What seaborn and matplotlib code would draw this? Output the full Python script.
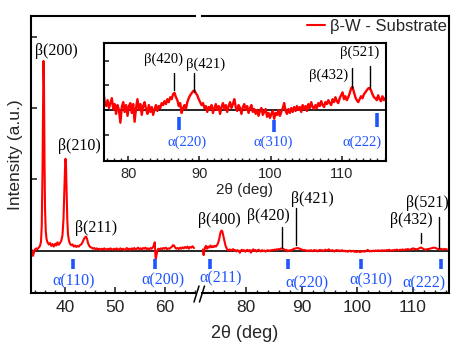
import numpy as np
import pandas as pd
import matplotlib
matplotlib.use("Agg")
import matplotlib.pyplot as plt
import seaborn as sns
from matplotlib.ticker import MultipleLocator, NullFormatter
from matplotlib.lines import Line2D

# ---------------- data (intensity in a.u. x1000, baseline = 0) ----------------
tt_left = [33.4, 33.6, 33.8, 34.0, 34.25, 34.5, 34.75, 35.0, 35.2, 35.35, 35.5, 35.6, 35.7, 35.8,
           35.9, 36.0, 36.15, 36.3, 36.5, 36.75, 37.0, 37.25, 37.5, 37.75, 38.0, 38.25, 38.5, 38.75,
           39.0, 39.25, 39.5, 39.7, 39.85, 40.0, 40.1, 40.2, 40.3, 40.45, 40.6, 40.8, 41.0, 41.25,
           41.5, 41.75, 42.0, 42.25, 42.5, 42.75, 43.0, 43.25, 43.5, 43.75, 44.0, 44.2, 44.4, 44.6,
           44.85, 45.1, 45.35, 45.6, 45.85, 46.1, 46.35, 46.6, 46.85, 47.1, 47.35, 47.6, 47.85, 48.1,
           48.35, 48.6, 48.85, 49.1, 49.35, 49.6, 49.85, 50.1, 50.35, 50.6, 50.85, 51.1, 51.35, 51.6,
           51.85, 52.1, 52.35, 52.6, 52.85, 53.1, 53.35, 53.6, 53.85, 54.1, 54.35, 54.6, 54.85, 55.1,
           55.35, 55.6, 55.85, 56.1, 56.35, 56.6, 56.85, 57.1, 57.35, 57.6, 57.8, 57.95, 58.05, 58.15,
           58.3, 58.45, 58.65, 58.9, 59.15, 59.4, 59.65, 59.9, 60.15, 60.4, 60.65, 60.9, 61.15, 61.4,
           61.6, 61.8, 62.0, 62.25, 62.5, 62.75, 63.0, 63.25, 63.5, 63.75, 64.0, 64.25, 64.5, 64.75,
           65.0, 65.25, 65.5, 65.8]
int_left = [10, -70, -20, 20, 35, 25, 45, 70, 130, 350, 1100, 1900, 2660, 2300,
            1300, 600, 280, 170, 120, 90, 110, 70, 95, 60, 100, 75, 120, 85,
            110, 140, 220, 450, 800, 1150, 1290, 1200, 900, 450, 230, 140, 100, 80,
            90, 60, 75, 55, 70, 60, 80, 90, 120, 160, 190, 200, 170, 110,
            70, 50, 45, 30, 40, 25, 35, 20, 30, 15, 30, 20, 35, 25,
            15, 30, 20, 35, 25, 15, 30, 20, 35, 15, 25, 35, 20, 30,
            10, 25, 40, 20, 30, 15, 35, 25, 40, 20, 30, 45, 25, 35,
            20, 40, 30, 45, 25, 35, 20, 40, 30, 55, 80, 120, -20, -110,
            -60, -10, 30, 20, 35, 25, 40, 30, 45, 25, 35, 30, 45, 60,
            80, 75, 50, 30, 40, 25, 45, 30, 50, 35, 55, 40, 60, 30,
            55, 45, 65, 40]

tt_right = [72.2, 72.4, 72.6, 72.8, 73.0, 73.2, 73.4, 73.6, 73.8, 74.0, 74.2, 74.4, 74.6, 74.8,
            75.0, 75.2, 75.4, 75.6, 75.75, 75.9, 76.1, 76.3, 76.5, 76.7,
            76.9, 77.1, 77.3, 77.5, 77.7, 77.9, 78.1, 78.3, 78.5, 78.7, 78.9, 79.1, 79.3, 79.5,
            79.7, 79.9, 80.1, 80.3, 80.5, 80.7, 80.9, 81.1, 81.3, 81.5, 81.7, 81.9, 82.1, 82.3,
            82.5, 82.7, 82.9, 83.1, 83.3, 83.5, 83.7, 83.9, 84.1, 84.3, 84.5, 84.7, 84.9, 85.1,
            85.3, 85.5, 85.7, 85.9, 86.1, 86.3, 86.5, 86.7, 86.9, 87.1, 87.3, 87.5, 87.7, 87.9,
            88.1, 88.3, 88.5, 88.7, 88.9, 89.1, 89.3, 89.5, 89.7, 89.9, 90.1, 90.3, 90.5, 90.7,
            90.9, 91.1, 91.3, 91.5, 91.7, 91.9, 92.1, 92.3, 92.5, 92.7, 92.9, 93.1, 93.3, 93.5,
            93.7, 93.9, 94.1, 94.3, 94.5, 94.7, 94.9, 95.1, 95.3, 95.5, 95.7, 95.9, 96.1, 96.3,
            96.5, 96.7, 96.9, 97.1, 97.3, 97.5, 97.7, 97.9, 98.1, 98.3, 98.5, 98.7, 98.9, 99.1,
            99.3, 99.5, 99.7, 99.9, 100.1, 100.3, 100.5, 100.7, 100.9, 101.1, 101.3, 101.5, 101.7,
            101.9, 102.1, 102.3, 102.5, 102.7, 102.9, 103.1, 103.3, 103.5, 103.7, 103.9, 104.1,
            104.3, 104.5, 104.7, 104.9, 105.1, 105.3, 105.5, 105.7, 105.9, 106.1, 106.3, 106.5,
            106.7, 106.9, 107.1, 107.3, 107.5, 107.7, 107.9, 108.1, 108.3, 108.5, 108.7, 108.9,
            109.1, 109.3, 109.5, 109.7, 109.9, 110.1, 110.3, 110.5, 110.7, 110.9, 111.1, 111.3,
            111.5, 111.7, 111.9, 112.1, 112.3, 112.5, 112.7, 112.9, 113.1, 113.3, 113.5, 113.7,
            113.9, 114.1, 114.3, 114.5, 114.7, 114.9, 115.1, 115.3, 115.5, 115.7, 115.9, 116.1]
int_right = [20, -60, 40, 70, 30, 60, 45, 75, 50, 65, 55, 70, 60, 80,
             110, 170, 250, 285, 275, 220, 140, 80, 40, 16,
             8, 20, 4, 14, 24, 2, 12, -8, 10, 0, -26, 6, 16, -4,
             10, -12, 8, 14, -6, 12, -24, 4, 22, 0, 12, -10, 8, 16,
             2, -8, 10, -4, 6, -10, 2, 10, -2, 8, 4, 14, 10, 18,
             12, 22, 16, 26, 22, 32, 35, 26, 20, 8, 14, -6, 4, 10,
             2, 16, 24, 30, 34, 38, 40, 34, 30, 22, 16, 10, 14, 4,
             8, -4, 6, 2, 10, -6, 4, 12, 0, 8, -8, 6, 14, 2,
             10, -4, 8, 16, 4, 12, 22, 6, -2, 10, 4, -8, 6, 12,
             0, 8, -6, 4, 10, -4, 2, -8, 0, -12, -2, 4, -10, -4,
             2, -14, -6, -16, -8, -2, -18, -6, -10, 0, -12, -4, 4,
             14, -2, -8, 2, -6, 4, -4, 6, -2, 8, 0, 6,
             -4, 10, 2, 8, -2, 12, 4, 16, 6, 2, 10, 4,
             14, 8, 18, 10, 6, 16, 12, 20, 14, 10, 22, 16,
             26, 18, 14, 24, 30, 36, 22, 28, 20, 26, 34, 44,
             47, 36, 26, 20, 16, 22, 28, 24, 32, 36, 40, 44,
             45, 40, 32, 26, 24, 20, 30, 22, 18, 28, 20, 24]

# reflection markers
beta_main_left = ["β(200)", "β(210)", "β(211)"]
beta_main_left_pos = [(38.35, 2800), (42.8, 1470), (46.2, 320)]
alpha_left = ["α(110)", "α(200)"]
alpha_left_tt = [41.5, 58.0]
alpha_left_lab = [(41.8, -430), (59.6, -420)]

beta_right_labels = ["β(400)", "β(420)", "β(421)", "β(432)", "β(521)"]
beta_right_lab = [(75.3, 430), (84.0, 490), (92.0, 730), (109.7, 430), (112.6, 670)]
beta_right_lines_tt = [86.5, 89.0, 111.5, 114.7]
beta_right_lines_y = [(40, 330), (85, 600), (110, 250), (40, 480)]
alpha_right = ["α(211)", "α(220)", "α(310)", "α(222)"]
alpha_right_tt = [73.5, 87.5, 100.7, 115.0]
alpha_right_lab = [(75.5, -390), (91.0, -450), (102.5, -420), (112.0, -450)]

inset_beta = ["β(420)", "β(421)", "β(432)", "β(521)"]
inset_beta_tt = [86.45, 89.3, 111.4, 113.9]
inset_beta_y = [(41, 75), (37, 76), (45, 86), (45, 90)]
inset_beta_lab = [(85.0, 104), (90.9, 94), (108.1, 70), (112.5, 118)]
inset_alpha = ["α(220)", "α(310)", "α(222)"]
inset_alpha_tt = [87.2, 100.5, 114.9]
inset_alpha_y = [(-15, -41), (-20, -45), (-6, -35)]
inset_alpha_lab = [(88.3, -65), (100.3, -65), (112.8, -65)]

# ---------------- styling ----------------
sns.set_style("ticks")
plt.rcParams["font.family"] = ["Liberation Sans", "DejaVu Sans"]
SERIF = ["Liberation Serif", "DejaVu Serif"]
RED = "#ff0000"
BLUE = "#1f55ff"

W, H = 463, 348
fig = plt.figure(figsize=(W / 100, H / 100), dpi=100)
fx = lambda px: px / W
fy = lambda py: 1 - py / H

axL = fig.add_axes([fx(31), fy(293), (195 - 31) / W, (293 - 16) / H])
axR = fig.add_axes([fx(202), fy(293), (449 - 202) / W, (293 - 16) / H], sharey=axL)
axI = fig.add_axes([fx(104), fy(161), (386 - 104) / W, (161 - 43) / H])

dfL = pd.DataFrame({"tt": tt_left, "I": int_left})
dfR = pd.DataFrame({"tt": tt_right, "I": int_right})

sns.lineplot(data=dfL, x="tt", y="I", ax=axL, color=RED, linewidth=1.5, estimator=None)
sns.lineplot(data=dfR, x="tt", y="I", ax=axR, color=RED, linewidth=1.5, estimator=None,
             label="β-W - Substrate")
sns.lineplot(data=dfR, x="tt", y="I", ax=axI, color=RED, linewidth=1.7, estimator=None)

for ax in (axL, axR, axI):
    ax.set_xlabel("")
    ax.set_ylabel("")
    for s in ax.spines.values():
        s.set_linewidth(1.5)
        s.set_color("black")

# main axes
axL.set_xlim(33.2, 66.0)
axR.set_xlim(72.1, 116.5)
axL.set_ylim(-590, 3290)
axL.spines["right"].set_visible(False)
axR.spines["left"].set_visible(False)
axL.axhline(0, xmin=0, xmax=1 + 7 / 164, color="black", lw=1.2, clip_on=False, zorder=1)
axR.axhline(0, color="black", lw=1.2, zorder=1)

for ax in (axL, axR):
    ax.xaxis.set_major_locator(MultipleLocator(10))
    ax.xaxis.set_minor_locator(MultipleLocator(2))
    ax.tick_params(axis="x", which="major", direction="in", length=4, width=1.2,
                   labelsize=12.5, pad=5, top=False)
    ax.tick_params(axis="x", which="minor", direction="in", length=2.5, width=1.0, top=False)
axL.set_yticks([1000, 2000, 3000])
axL.yaxis.set_major_formatter(NullFormatter())
axL.tick_params(axis="y", direction="in", length=4, width=1.2, left=True, right=False)
axR.tick_params(axis="y", left=False, right=False, labelleft=False)

# labels main
for s, (x, y) in zip(beta_main_left, beta_main_left_pos):
    axL.text(x, y, s, ha="center", va="center", family=SERIF, fontsize=11.5, color="black")
for t in alpha_left_tt:
    axL.plot([t, t], [-110, -250], color=BLUE, lw=2.6, solid_capstyle="butt")
for s, (x, y) in zip(alpha_left, alpha_left_lab):
    axL.text(x, y, s, ha="center", va="center", family=SERIF, fontsize=11.5, color=BLUE)

for s, (x, y) in zip(beta_right_labels, beta_right_lab):
    axR.text(x, y, s, ha="center", va="center", family=SERIF, fontsize=11.5, color="black")
for t, (y0, y1) in zip(beta_right_lines_tt, beta_right_lines_y):
    axR.plot([t, t], [y0, y1], color="black", lw=1.0)
for t in alpha_right_tt:
    axR.plot([t, t], [-110, -250], color=BLUE, lw=2.6, solid_capstyle="butt")
for s, (x, y) in zip(alpha_right, alpha_right_lab):
    axR.text(x, y, s, ha="center", va="center", family=SERIF, fontsize=11.5, color=BLUE)

leg = axR.legend(loc="upper right", bbox_to_anchor=(fx(447), fy(19)), bbox_transform=fig.transFigure,
                 frameon=False, handlelength=1.1, handletextpad=0.3, borderaxespad=0, borderpad=0,
                 fontsize=12)

fig.text(fx(245), fy(333), "2θ (deg)", ha="center", va="center", fontsize=13)
fig.text(fx(16), fy(155), "Intensity (a.u.)", ha="center", va="center", rotation=90, fontsize=12.5)

# break marks
for x0 in (194, 199.5):
    fig.add_artist(Line2D([fx(x0), fx(x0 + 5)], [fy(302), fy(286)], color="black", lw=1.1))

# inset
axI.set_facecolor("white")
axI.set_xlim(76.6, 116.2)
axI.set_ylim(-104, 136.5)
axI.axhline(0, color="black", lw=1.2, zorder=1)
axI.xaxis.set_major_locator(MultipleLocator(10))
axI.xaxis.set_minor_locator(MultipleLocator(1))
axI.tick_params(axis="x", which="major", direction="in", length=3.5, width=1.2, labelsize=10.5,
                pad=4, top=False)
axI.tick_params(axis="x", which="minor", direction="in", length=2, width=1.0, top=False)
axI.set_yticks([-50, 0, 50, 100])
axI.yaxis.set_major_formatter(NullFormatter())
axI.tick_params(axis="y", direction="in", length=3.5, width=1.2, left=True, right=False)
axI.set_xlabel("2θ (deg)", fontsize=11, labelpad=2)

for t, (y0, y1) in zip(inset_beta_tt, inset_beta_y):
    axI.plot([t, t], [y0, y1], color="black", lw=1.0)
for s, (x, y) in zip(inset_beta, inset_beta_lab):
    axI.text(x, y, s, ha="center", va="center", family=SERIF, fontsize=10.5, color="black")
for t, (y0, y1) in zip(inset_alpha_tt, inset_alpha_y):
    axI.plot([t, t], [y0, y1], color=BLUE, lw=2.6, solid_capstyle="butt")
for s, (x, y) in zip(inset_alpha, inset_alpha_lab):
    axI.text(x, y, s, ha="center", va="center", family=SERIF, fontsize=10.5, color=BLUE)

fig.savefig("out.png", dpi=100)
